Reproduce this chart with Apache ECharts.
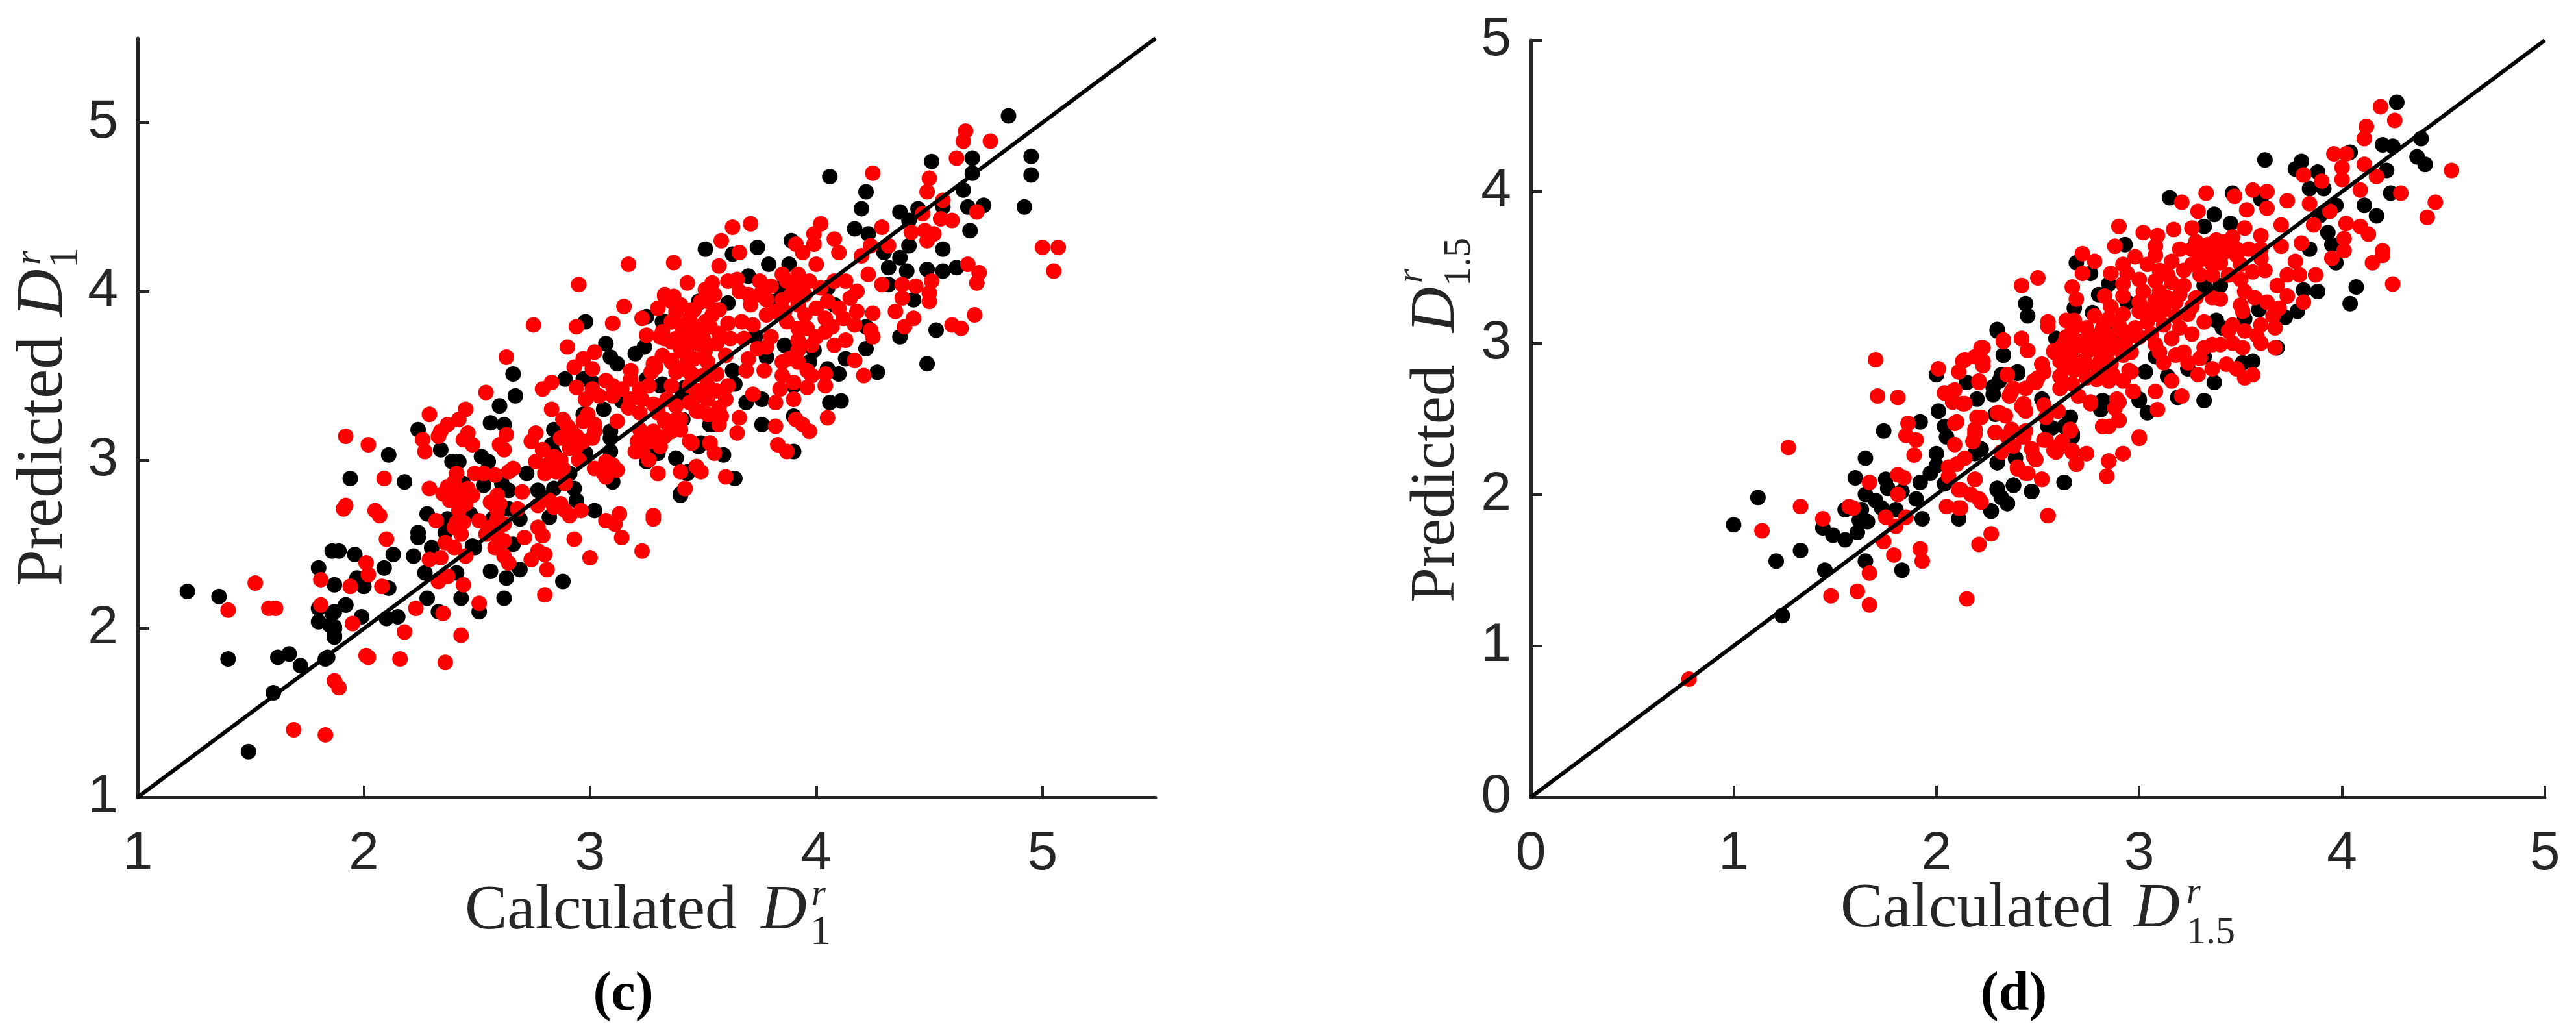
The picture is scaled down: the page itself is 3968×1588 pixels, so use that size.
<!DOCTYPE html>
<html>
<head>
<meta charset="utf-8">
<title>Calculated vs predicted</title>
<script src="https://cdn.jsdelivr.net/npm/echarts@6/dist/echarts.min.js"></script>
<style>
html, body { margin: 0; padding: 0; background: #fff; }
#chart { width: 3968px; height: 1588px; }
</style>
</head>
<body>
<div id="chart"></div>
<script>
// values, [calculated, predicted]
var blackC = [
[1.94,2.89],[2.11,3.03],[2.18,2.87],[2.24,3.18],[2.34,3.06],[2.39,2.99],[2.42,2.99],[2.52,3.02],[2.55,2.99],[2.56,3.22],[2.62,3.21],[2.60,3.32],[2.67,3.38],[2.66,3.51],
[2.98,3.82],[3.07,3.69],[3.09,3.61],[3.12,3.57],[3.20,3.63],[3.24,3.67],[3.25,3.85],[2.89,3.48],[2.97,3.48],[3.01,3.46],[2.84,3.18],[2.83,3.09],[2.84,3.04],[2.72,2.92],
[2.53,2.85],[2.61,2.86],[2.64,2.82],[2.44,2.86],[2.28,2.68],[2.47,2.68],[2.37,2.65],[2.24,2.54],[2.24,2.57],[2.36,2.57],[2.30,2.48],[2.22,2.43],[2.48,2.49],[2.49,2.48],
[2.13,2.44],[2.09,2.36],[1.96,2.44],[1.86,2.46],[1.89,2.46],[1.87,2.26],[1.97,2.30],[2.00,2.25],[2.11,2.24],[2.27,2.33],[2.41,2.33],[2.56,2.34],[2.63,2.30],[2.69,2.35],
[2.66,2.50],[2.69,2.65],[2.64,2.71],[2.57,2.65],[2.82,2.66],[2.94,2.76],[2.93,2.83],[2.84,2.83],[2.77,2.82],[3.02,2.70],[2.88,2.28],[2.28,2.18],[2.43,2.18],[2.62,2.18],
[2.51,2.10],[2.33,2.10],[2.10,2.06],[2.15,2.07],[1.99,2.07],[1.92,2.14],[1.87,2.10],[1.85,2.02],[1.87,2.00],[1.87,1.96],[1.84,1.83],[3.10,2.87],[3.09,3.13],[3.09,3.17],
[3.06,3.30],[2.97,3.27],[3.14,3.35],[3.25,2.99],[3.30,3.04],[3.38,3.01],[3.43,2.92],[3.40,2.79],[3.48,3.08],[3.42,3.43],[3.53,3.21],[3.32,3.45],[3.25,3.48],[3.41,3.72],
[3.48,3.94],[3.32,3.82],[3.09,3.05],[2.91,2.92],[2.98,3.04],
[1.22,2.22],[1.36,2.19],[1.40,1.82],[1.62,1.83],[1.67,1.85],[1.72,1.78],[1.83,1.82],[1.60,1.62],[1.49,1.27],[1.80,2.36],[1.80,2.12],[1.80,2.04],[1.86,2.09],[1.92,2.14],[1.87,2.01],[1.87,1.95],
[4.85,5.04],[4.95,4.80],[4.95,4.69],[4.92,4.50],[4.69,4.79],[4.51,4.77],[4.69,4.70],[4.65,4.60],[4.06,4.68],[4.22,4.59],[4.20,4.49],[4.37,4.47],[4.45,4.49],[4.56,4.50],
[4.67,4.50],[4.74,4.51],[4.17,4.37],[4.23,4.34],[4.41,4.42],[4.68,4.36],[4.56,4.25],[4.41,4.27],[4.30,4.23],[4.37,4.20],[4.32,4.14],[4.40,4.12],[4.49,4.13],[4.56,4.12],
[4.62,4.14],[3.74,4.26],[3.51,4.25],[3.63,4.22],[3.79,4.16],[3.88,4.16],[3.89,4.30],[3.70,4.09],[3.48,3.93],[3.61,3.93],[3.33,3.82],[3.84,4.02],[4.05,4.02],[4.08,3.92],
[3.82,3.94],[3.73,3.73],[3.78,3.61],[3.86,3.68],[3.99,3.65],[3.97,3.58],[4.22,3.66],[4.13,3.60],[4.05,3.54],[4.10,3.51],[4.27,3.52],[4.49,3.57],[4.53,3.77],[4.37,3.73],
[4.43,3.95],[4.32,4.04],[4.22,3.79],[4.06,3.34],[4.11,3.35],[3.90,3.44],[3.76,3.36],[3.69,3.34],[3.76,3.21],[3.90,3.05],[3.90,3.26],[3.64,2.89],[3.59,3.03],[3.38,3.01],
[3.29,3.04],[3.49,3.10],[3.43,2.93],[3.40,2.80],[3.54,3.21],[3.41,3.24],[3.63,3.53],[3.64,3.45],[3.41,3.39],[3.31,3.44]
];
var redC = [
[1.92,3.14],[2.02,3.09],[2.09,2.89],[1.91,2.71],[1.92,2.73],[2.05,2.70],[2.07,2.67],[2.10,2.53],[2.29,3.27],[2.45,3.30],[2.42,3.24],[2.37,3.21],[2.34,3.17],[2.33,3.14],
[2.26,3.12],[2.27,3.05],[2.46,3.16],[2.44,3.12],[2.48,3.09],[2.63,3.15],[2.60,3.09],[2.62,3.06],[2.54,3.40],[2.63,3.61],[2.75,3.80],[2.94,3.79],[3.10,3.81],[3.15,3.91],
[2.90,3.67],[3.02,3.64],[2.97,3.60],[2.93,3.55],[3.01,3.54],[2.83,3.46],[2.79,3.42],[2.94,3.43],[3.01,3.42],[2.98,3.36],[3.04,3.38],[3.10,3.44],[3.10,3.38],[3.18,3.53],
[3.18,3.48],[3.28,3.57],[3.27,3.52],[3.23,3.84],[3.33,3.97],[3.36,3.94],[3.25,3.74],[3.33,3.72],[3.36,3.82],[3.45,3.89],[3.41,3.80],[3.47,3.79],[3.36,3.58],[3.42,3.63],
[3.51,3.66],[3.49,3.94],[3.53,3.79],[3.26,3.44],[3.36,3.44],[3.18,3.36],[3.23,3.36],[3.17,3.31],[3.12,3.23],[2.83,3.30],[2.88,3.24],[2.99,3.27],[3.02,3.21],[2.97,3.23],
[2.92,3.17],[3.01,3.13],[2.97,3.11],[2.87,3.13],[2.76,3.16],[2.74,3.11],[2.79,3.06],[2.91,3.07],[2.87,3.00],[2.85,2.93],[2.76,2.99],[2.80,2.92],[2.66,2.95],[2.64,2.93],
[2.95,3.00],[3.07,2.99],[3.06,2.92],[3.12,2.94],[3.07,2.90],[2.89,2.86],[2.70,2.81],[2.58,2.91],[2.53,2.92],[2.49,2.92],[2.41,2.92],[2.40,2.87],[2.29,2.83],[2.35,2.80],
[2.38,2.76],[2.42,2.79],[2.48,2.79],[2.42,2.70],[2.59,2.79],[2.56,2.75],[2.59,2.70],[2.59,2.65],[2.68,2.71],[2.77,2.73],[2.82,2.76],[2.87,2.74],[2.91,2.67],[2.32,2.64],
[2.41,2.63],[2.51,2.64],[2.43,2.56],[2.59,2.55],[2.54,2.56],[2.36,2.51],[2.40,2.48],[2.34,2.42],[2.29,2.41],[2.45,2.43],[2.62,2.43],[2.64,2.39],[2.77,2.60],[2.79,2.55],
[2.71,2.54],[2.77,2.46],[2.80,2.44],[2.74,2.41],[2.81,2.35],[2.93,2.53],[3.00,2.42],[3.07,2.64],[3.13,2.68],[3.11,2.62],[3.14,2.54],[3.28,2.65],[3.23,2.46],[2.80,2.20],
[2.37,2.31],[2.33,2.28],[2.44,2.26],[2.51,2.15],[2.35,2.09],[2.23,2.12],[2.18,1.98],[2.43,1.96],[2.01,1.84],[2.02,1.83],[2.16,1.82],[2.36,1.80],[1.95,2.03],[2.01,2.39],
[2.02,2.32],[1.94,2.25],[2.08,2.25],[3.21,3.11],[3.25,3.14],[3.23,3.05],[3.27,3.11],[3.33,3.23],[3.36,3.19],[3.40,3.24],[3.45,3.10],[3.47,3.29],[3.47,3.38],[3.53,3.10],
[3.30,2.92],[3.40,2.93],[3.47,2.96],[3.49,2.93],[3.42,2.83],
[1.52,2.27],[1.40,2.11],[1.58,2.12],[1.61,2.12],[1.81,2.29],[1.81,2.14],[1.87,1.69],[1.89,1.65],[1.69,1.40],[1.83,1.37],[3.17,4.16],[2.95,4.04],
[4.66,4.95],[4.65,4.89],[4.77,4.89],[4.62,4.79],[4.25,4.70],[4.50,4.67],[4.49,4.59],[4.56,4.54],[4.71,4.47],[4.47,4.46],[4.60,4.42],[4.55,4.43],[5.07,4.26],[5.00,4.26],
[5.05,4.12],[4.29,4.38],[4.02,4.40],[3.99,4.34],[4.08,4.31],[3.99,4.28],[3.91,4.28],[3.94,4.23],[4.10,4.23],[4.42,4.35],[4.48,4.36],[4.52,4.34],[4.49,4.30],[4.32,4.27],
[4.24,4.27],[4.20,4.21],[3.71,4.40],[3.63,4.38],[3.58,4.30],[3.66,4.23],[3.37,4.17],[3.57,4.15],[4.67,4.16],[4.72,4.11],[4.71,4.05],[4.51,4.06],[4.50,3.99],[4.50,3.94],
[4.44,4.03],[4.38,4.04],[4.38,3.96],[4.29,4.04],[4.35,3.88],[4.70,3.86],[4.43,3.84],[4.39,3.79],[4.60,3.80],[4.64,3.78],[4.25,3.87],[4.24,3.77],[4.25,3.73],[4.17,3.80],
[4.07,3.79],[4.13,3.71],[4.17,3.59],[4.21,3.50],[4.00,4.16],[3.92,4.10],[3.85,4.10],[3.75,4.06],[3.65,4.07],[3.61,4.06],[3.54,4.05],[3.43,4.05],[3.33,3.98],[3.37,3.97],
[3.51,4.01],[3.52,3.94],[3.57,3.89],[3.46,3.89],[3.71,3.92],[3.75,3.98],[3.78,3.95],[3.82,3.88],[3.92,4.02],[3.89,3.98],[3.97,4.06],[4.13,4.06],[4.18,4.00],[4.23,4.10],
[4.15,3.96],[4.05,3.94],[4.00,3.90],[3.95,3.86],[4.04,3.84],[3.87,3.82],[3.92,3.78],[3.67,3.82],[3.51,3.82],[3.61,3.81],[3.36,3.82],[3.41,3.78],[3.47,3.76],[3.57,3.75],
[3.31,3.73],[3.36,3.70],[3.48,3.69],[3.56,3.69],[3.80,3.73],[3.78,3.67],[3.92,3.71],[4.00,3.73],[3.92,3.65],[3.92,3.58],[3.85,3.58],[3.85,3.50],[3.90,3.46],[3.96,3.43],
[4.04,3.51],[4.04,3.44],[3.70,3.60],[3.69,3.53],[3.77,3.53],[3.72,3.39],[3.82,3.34],[4.05,3.25],[3.91,3.24],[3.97,3.17],[3.94,3.21],[3.82,3.20],[3.83,3.09],[3.87,3.05],
[3.43,3.67],[3.36,3.59],[3.41,3.55],[3.29,3.55],[3.51,3.65],[3.56,3.51],[3.48,3.41],[3.61,3.44],[3.56,3.41],[3.57,3.31],[3.48,3.29],[3.66,3.25],[3.52,3.27],[3.57,3.21],
[3.33,3.24],[3.38,3.24],[3.36,3.17],[3.28,3.16],[3.65,3.16],[3.44,3.11],[3.53,3.10],[3.55,3.04],[3.47,2.96],[3.30,2.92],[3.60,2.90],[3.42,2.83],[3.28,2.67],
[3.30,3.90],[3.38,3.88],[3.44,3.84],[3.32,3.76],[3.38,3.72],[3.44,3.72],[3.50,3.72],[3.40,3.66],[3.46,3.60],[3.52,3.58],[3.32,3.62],[3.38,3.52],[3.44,3.52],[3.50,3.50],[3.54,3.86],
[2.90,3.20],[2.94,3.14],[3.02,3.17],[2.90,3.12],[2.94,3.08],[2.84,3.02],[2.82,2.98],[2.88,2.95],[3.02,2.95],[3.10,2.97],[3.28,3.17],[3.22,3.18],[3.31,3.08],[3.20,3.05],[3.26,3.00],
[3.33,3.14],[3.40,3.18],[3.07,3.47],[3.14,3.42],[3.22,3.28],[3.28,3.33],[3.34,3.36],[3.30,3.28],[3.22,3.42],[2.40,2.76],[2.45,2.74],[2.46,2.83],[2.37,2.84],[2.44,2.63],[2.40,2.60],
[2.60,2.74],[2.62,2.62],[2.56,2.60],[2.62,2.52],[2.58,2.48],[2.84,2.72],[2.89,2.70],[2.96,2.70],[3.40,3.92],[3.55,3.98],[3.66,4.00],[3.70,3.98],[3.80,4.03],[3.87,4.06],[3.95,3.98],
[4.02,4.02],[4.08,4.06],[3.85,3.95],[3.92,3.92],[3.78,3.86],[3.72,3.80],[3.62,3.72],[3.68,3.72],[3.74,3.66],[3.60,3.62],[3.46,3.50],[3.52,3.44],[3.44,3.44],[3.60,3.36],[3.52,3.36],
[3.44,3.34],[3.38,3.32],[3.58,3.26],[3.30,3.32],[3.86,3.88],[3.96,3.78],[4.04,3.76],[3.98,3.68],[3.88,3.60],[3.96,3.53],[3.98,3.50],[3.84,3.42],[3.90,3.36],[4.10,3.90],[4.12,3.84],
[4.18,3.88],[4.08,3.68]
];
var blackD = [
[1.00,1.80],[1.12,1.98],[1.21,1.56],[1.33,1.63],[1.24,1.20],[1.45,1.50],[1.65,1.56],[1.83,1.50],[1.74,2.42],[1.65,2.24],[1.60,2.11],[1.65,2.00],[1.70,1.96],[1.73,1.91],
[1.75,2.10],[1.76,2.04],[1.80,1.90],[1.55,1.90],[1.63,1.90],[1.66,1.82],[1.62,1.83],[1.61,1.75],[1.55,1.70],[1.49,1.73],[1.44,1.78],[1.83,2.02],[1.90,1.97],[1.93,1.84],
[1.92,2.08],[1.97,2.14],[2.00,2.19],[2.00,2.27],[2.04,2.07],[2.04,2.45],[2.05,2.38],[1.92,2.48],[2.01,2.55],[2.00,2.79],[2.11,1.84],[2.27,1.89],[2.30,2.03],[2.32,1.98],
[2.35,1.94],[2.38,2.06],[2.47,2.02],[2.63,2.08],[2.30,2.21],[2.39,2.24],[2.15,2.74],[2.20,2.63],[2.22,2.30],[2.19,2.27],[2.28,2.71],[2.30,3.09],[2.33,2.92],[2.40,2.81],
[2.32,2.79],[2.59,3.03],[2.61,2.78],[2.52,2.63],[2.55,2.45],[2.63,2.45],[2.66,2.51],[2.67,2.38],[2.81,2.56],[2.83,2.61],[3.00,2.63],[2.90,3.07],
[4.27,4.59],[4.39,4.35],[4.37,4.23],[4.41,4.18],[4.20,4.31],[4.25,4.30],[4.22,4.14],[4.24,3.99],[4.11,3.91],[4.17,3.84],[4.04,4.26],[3.62,4.21],[3.80,4.20],[3.77,4.15],
[3.88,4.13],[3.84,4.02],[3.91,4.02],[3.97,3.91],[3.89,3.84],[3.93,3.73],[3.95,3.65],[3.97,3.53],[3.84,3.62],[3.15,3.96],[3.46,3.99],[3.37,3.85],[3.45,3.79],[3.32,3.77],
[3.60,3.95],[2.93,3.65],[2.69,3.53],[2.76,3.46],[2.85,3.39],[2.80,3.32],[2.44,3.26],[2.45,3.18],[2.68,3.23],[2.77,3.20],[2.94,3.27],[2.30,3.08],[2.59,3.03],[2.33,2.92],
[2.40,2.80],[2.31,2.75],[2.28,2.66],[2.89,3.08],[4.07,3.37],[3.88,3.34],[3.81,3.35],[4.04,3.26],[3.78,3.21],[3.72,3.17],[3.38,3.15],[3.41,3.10],[3.59,3.22],[3.52,3.16],
[3.68,2.97],[3.56,2.88],[3.51,2.87],[3.32,2.91],[3.37,2.74],[3.32,2.62],[3.24,2.83],[3.08,2.91],[3.03,2.81],[3.00,2.62],[3.04,2.54],[3.19,2.64],[3.14,2.78],[2.82,2.62],
[2.66,2.51],[2.57,2.44],[2.67,2.40],[2.30,2.21],[2.38,2.06],[2.47,2.02],[2.63,2.08],[2.30,2.04],[2.35,1.94],[2.27,1.89],[3.40,3.38],[3.32,3.38],[2.29,2.53],[2.22,2.30]
];
var redD = [
[0.78,0.78],[1.14,1.76],[1.27,2.31],[1.70,2.89],[1.71,2.65],[1.81,2.64],[2.01,2.83],[1.86,2.47],[1.85,2.39],[1.90,2.36],[1.89,2.26],[1.33,1.92],[1.44,1.84],[1.57,1.92],
[1.59,1.91],[1.67,2.08],[1.81,2.13],[1.84,2.11],[1.81,2.00],[1.75,1.85],[1.85,1.85],[1.80,1.79],[1.74,1.69],[1.79,1.60],[1.92,1.64],[1.93,1.56],[1.67,1.48],[1.61,1.36],
[1.48,1.33],[1.67,1.27],[2.15,1.31],[2.21,1.67],[2.27,1.74],[2.05,1.92],[2.12,1.91],[2.55,1.86],[2.19,2.10],[2.12,2.03],[2.17,2.00],[2.22,1.95],[2.06,2.18],[2.06,2.12],
[2.10,2.20],[2.09,2.33],[2.14,2.24],[2.10,2.48],[2.18,2.35],[2.19,2.43],[2.22,2.51],[2.14,2.60],[2.08,2.61],[2.04,2.67],[2.09,2.69],[2.21,2.74],[2.11,2.81],[2.14,2.89],
[2.19,2.91],[2.23,2.97],[2.23,2.85],[2.33,3.02],[2.42,3.03],[2.45,2.95],[2.35,2.79],[2.31,2.54],[2.34,2.52],[2.29,2.41],[2.37,2.43],[2.38,2.70],[2.36,2.65],[2.42,2.58],
[2.44,2.55],[2.49,2.74],[2.52,2.86],[2.53,2.81],[2.44,2.70],[2.32,2.28],[2.38,2.32],[2.44,2.42],[2.47,2.30],[2.49,2.23],[2.40,2.18],[2.44,2.14],[2.52,2.10],[2.54,2.36],
[2.58,2.29],[2.62,2.35],[2.66,2.42],[2.67,2.29],[2.74,2.27],[2.69,2.20],[2.85,2.22],[2.84,2.12],[2.92,2.27],[2.90,2.49],[2.82,2.45],[2.90,2.61],[2.76,2.60],[3.00,2.38],
[2.97,2.68],[2.96,2.81],[2.61,2.70],[2.70,2.65],[2.54,2.51],[2.60,2.55],[2.67,2.73],[2.58,2.94],[2.61,2.88],[2.66,2.93],[2.71,3.01],[2.79,3.04],[2.64,3.04],[2.72,2.88],
[2.81,2.94],[2.86,3.02],[2.95,3.06],[2.87,2.79],[2.79,2.76],[2.55,3.11],
[4.19,4.56],[4.26,4.47],[4.12,4.43],[4.11,4.35],[3.96,4.25],[4.02,4.25],[4.00,4.16],[4.11,4.18],[4.17,4.10],[4.00,4.08],[4.09,4.01],[4.29,3.99],[4.54,4.14],[4.46,3.93],
[4.42,3.83],[3.90,4.07],[3.81,4.11],[3.84,3.92],[3.94,3.87],[4.02,3.79],[4.09,3.77],[4.13,3.72],[4.01,3.69],[4.01,3.61],[3.95,3.56],[4.20,3.61],[4.20,3.58],[4.15,3.53],
[4.25,3.39],[3.87,3.45],[3.86,3.78],[3.80,3.66],[3.77,3.54],[3.79,3.45],[3.73,3.45],[3.73,3.31],[3.81,3.27],[3.69,3.23],[3.63,3.27],[3.67,3.10],[3.67,2.97],[3.60,3.00],
[3.56,4.01],[3.63,4.00],[3.73,3.94],[3.63,3.89],[3.53,3.88],[3.33,3.99],[3.21,3.93],[3.29,3.87],[3.47,3.97],[3.26,3.76],[3.17,3.75],[3.09,3.71],[3.02,3.73],[2.90,3.77],
[3.08,3.64],[2.88,3.64],[2.72,3.59],[2.78,3.54],[2.72,3.46],[2.86,3.46],[2.50,3.43],[2.42,3.38],[2.67,3.37],[2.92,3.52],[2.98,3.57],[2.92,3.39],[2.69,3.29],[2.83,3.31],
[2.92,3.31],[2.55,3.14],[2.64,3.15],[3.02,3.34],[3.08,3.41],[3.04,3.52],[3.16,3.54],[3.28,3.67],[3.34,3.65],[3.42,3.67],[3.52,3.76],[3.60,3.71],[3.70,3.78],[3.70,3.64],
[3.60,3.56],[3.48,3.58],[3.36,3.52],[3.26,3.52],[3.44,3.45],[3.56,3.47],[3.68,3.38],[3.52,3.34],[3.57,3.30],[3.50,3.25],[3.22,3.38],[3.10,3.34],[3.18,3.27],[3.28,3.30],
[3.36,3.30],[3.40,3.29],[3.51,3.21],[3.00,3.21],[2.92,3.19],[2.85,3.16],[3.08,3.19],[3.24,3.19],[3.32,3.14],[2.85,3.05],[2.77,3.05],[2.67,3.08],[2.63,3.00],[2.75,2.95],
[2.85,2.95],[2.94,3.03],[3.06,3.06],[3.16,3.03],[3.26,3.06],[3.36,2.99],[3.44,3.08],[3.52,3.08],[3.51,2.97],[3.40,2.99],[3.32,2.97],[3.18,2.92],[3.08,2.99],[2.65,2.90],
[2.58,2.95],[2.71,2.86],[2.81,2.89],[2.52,2.86],[2.50,2.77],[2.61,2.78],[2.74,2.77],[2.85,2.75],[2.92,2.75],[2.95,2.82],[3.12,2.87],[3.24,2.87],[3.36,2.83],[3.43,2.86],
[3.48,2.83],[3.52,2.77],[3.56,2.79],[3.29,2.79],[2.97,2.68],[3.16,2.75],[3.08,2.68],[3.21,2.65],[2.89,2.63],[2.88,2.57],[2.76,2.61],[3.09,2.56],[2.90,2.49],[2.82,2.45],
[2.85,2.45],[2.66,2.43],[2.53,2.59],[2.43,2.60],[2.35,2.79],[2.21,2.75],[2.13,2.88],[2.23,2.88],[2.22,2.97],[2.33,3.01],[2.42,3.03],[2.45,2.95],[2.48,2.75],[2.37,2.68],
[2.08,2.68],[2.13,2.60],[2.20,2.51],[2.09,2.47],[2.19,2.40],[2.30,2.54],[2.29,2.41],[2.35,2.38],[2.43,2.38],[2.53,2.36],[2.61,2.33],[2.67,2.28],[2.74,2.27],[2.69,2.20],
[2.59,2.28],[2.48,2.25],[2.40,2.17],[2.45,2.14],[2.52,2.10],[2.85,2.22],[2.92,2.27],[2.84,2.12],[3.00,2.37],[2.19,2.10],[2.11,2.03],[2.21,1.97],[2.11,1.91],[2.55,1.86],
[3.30,3.62],[3.36,3.60],[3.42,3.60],[3.48,3.62],[3.54,3.62],[3.30,3.55],[3.40,3.53],[3.50,3.52],[3.30,3.45],[3.36,3.45],[3.50,3.42],[3.60,3.62],[3.62,3.48],[3.26,3.62],[3.38,3.68],
[3.46,3.70],[3.20,3.62],[3.22,3.48],[3.14,3.45],[3.10,3.48],[3.16,3.40],[3.08,3.28],[3.14,3.30],[3.20,3.32],[3.26,3.24],[3.12,3.22],[3.18,3.18],[3.00,3.27],[3.04,3.22],[3.04,3.14],
[3.12,3.12],[3.20,3.10],[2.98,3.10],[2.90,3.12],[2.92,3.08],[2.82,3.10],[2.74,3.10],[2.80,3.00],[2.90,2.98],[2.96,2.94],[2.74,3.02],[2.70,2.98],[2.66,2.94],[2.68,3.15],[2.78,3.18],
[2.86,3.24],[2.94,3.46],[3.00,3.42],[3.08,3.58],[3.00,3.04],[3.10,2.94],[3.22,2.94],[3.30,2.90],[3.46,3.00],[3.58,3.05],[3.60,3.12],[3.66,3.18],[3.46,3.12],[2.76,2.98],[2.82,3.00],
[2.88,2.98],[2.74,2.86],[2.80,2.82],[2.86,2.86],[2.92,2.92],[2.68,2.82],[2.62,2.98],[2.63,2.84]
];
var refLineC = [[1, 1], [5.5, 5.5]];
var refLineD = [[0, 0], [5, 5]];

var axisColor = '#262626';
var serif = '"Liberation Serif", serif';

function makeAxis(gridIndex, min, max, margin) {
    return {
        type: 'value',
        gridIndex: gridIndex,
        min: min,
        max: max,
        interval: 1,
        splitLine: { show: false },
        axisLine: { show: true, onZero: false, lineStyle: { color: axisColor, width: 5 } },
        axisTick: { show: true, inside: true, length: 18, lineStyle: { color: axisColor, width: 4 } },
        axisLabel: {
            show: true, fontFamily: '"Liberation Sans", sans-serif', fontSize: 84, color: axisColor, margin: margin,
            showMaxLabel: max === 5, showMinLabel: true, hideOverlap: false,
            formatter: function (v) { return String(v); }
        }
    };
}
function dots(name, data, color, index) {
    return {
        name: name, type: 'scatter', xAxisIndex: index, yAxisIndex: index,
        data: data, symbol: 'circle', symbolSize: 24, silent: true, animation: false,
        itemStyle: { color: color, opacity: 1 }
    };
}
function refLine(data, index) {
    return {
        name: 'y = x', type: 'line', xAxisIndex: index, yAxisIndex: index, data: data, z: 5,
        symbol: 'none', silent: true, animation: false,
        lineStyle: { color: '#000', width: 6 }
    };
}
// text is placed by its top edge; the baseline sits about 0.8 em below that
function label(text, x, baseline, size, extra) {
    var style = { text: text, x: x, y: baseline - 0.8 * size, fontSize: size, fontFamily: serif, fill: axisColor };
    for (var k in (extra || {})) { style[k] = extra[k]; }
    return { type: 'text', style: style, silent: true };
}
// rotated y-axis label, reads bottom to top
function ylabel(text, baselineX, y, size, extra) {
    var el = label(text, 0, 0.8 * size, size, extra);
    el.x = baselineX - 0.8 * size;
    el.y = y;
    el.rotation = Math.PI / 2;
    return el;
}
var italic = { fontStyle: 'italic' };

var chart = echarts.init(document.getElementById('chart'), null, { renderer: 'canvas' });
chart.setOption({
    backgroundColor: '#fff',
    animation: false,
    grid: [
        { left: 212, top: 59, width: 1568, height: 1169, containLabel: false },
        { left: 2358, top: 62, width: 1562, height: 1166, containLabel: false }
    ],
    xAxis: [makeAxis(0, 1, 5.5, 46), makeAxis(1, 0, 5, 46)],
    yAxis: [makeAxis(0, 1, 5.5, 30), makeAxis(1, 0, 5, 30)],
    series: [
        dots('c black', blackC, '#000', 0),
        dots('c red', redC, '#f00', 0),
        refLine(refLineC, 0),
        dots('d black', blackD, '#000', 1),
        dots('d red', redD, '#f00', 1),
        refLine(refLineD, 1)
    ],
    graphic: [
        // panel c labels
        label('Calculated', 716, 1434, 98),
        label('D', 1172, 1434, 98, italic),
        label('r', 1250, 1396, 56, italic),
        label('1', 1248, 1456, 64),
        ylabel('Predicted', 99, 903, 102),
        ylabel('D', 99, 488, 102, italic),
        ylabel('r', 64, 408, 56, italic),
        ylabel('1', 121, 413, 64),
        label('(c)', 960, 1558, 84, { fontWeight: 'bold', fill: '#000', align: 'center' }),
        // panel d labels
        label('Calculated', 2835, 1431, 98),
        label('D', 3287, 1431, 98, italic),
        label('r', 3368, 1393, 56, italic),
        label('1.5', 3368, 1455, 60),
        ylabel('Predicted', 2243, 928, 97),
        ylabel('D', 2243, 512, 97, italic),
        ylabel('r', 2192, 436, 56, italic),
        ylabel('1.5', 2266, 441, 60),
        label('(d)', 3102, 1558, 84, { fontWeight: 'bold', fill: '#000', align: 'center' })
    ]
});
</script>
</body>
</html>
